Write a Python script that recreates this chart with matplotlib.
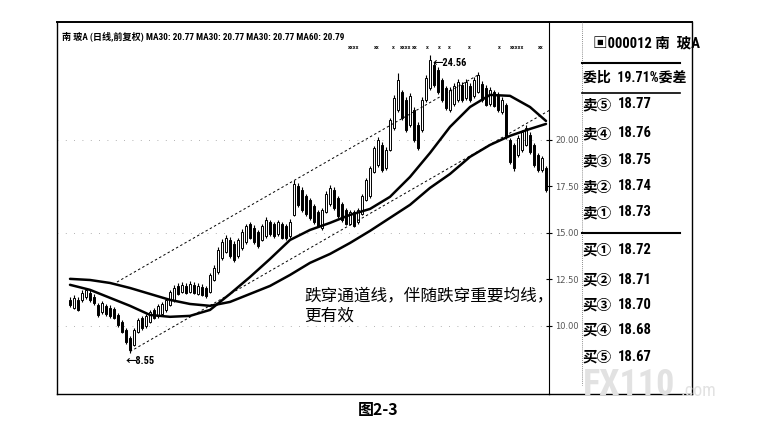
import matplotlib
matplotlib.use("Agg")
import matplotlib.pyplot as plt
from matplotlib import font_manager

# === daily candles (price units) ===
opens = [11.40, 10.97, 11.40, 11.40, 11.55, 11.78, 11.56, 11.13, 10.75, 11.08,
         10.97, 10.91, 10.59, 10.22, 9.79, 9.36, 8.98, 9.68, 10.43, 10.00,
         10.22, 10.86, 10.54, 10.65, 10.86, 11.13, 11.40, 12.15, 11.83, 12.15,
         11.83, 12.21, 11.72, 12.10, 12.04, 11.83, 12.47, 12.90, 13.66, 13.98,
         14.62, 14.41, 13.76, 14.20, 14.52, 15.48, 15.27, 15.05, 14.62, 14.84,
         15.59, 15.48, 14.95, 15.48, 15.38, 14.84, 15.97, 17.53, 17.31, 16.99,
         16.77, 16.45, 16.13, 15.27, 16.13, 16.56, 17.31, 16.88, 16.56, 16.24,
         15.48, 16.13, 15.59, 16.02, 16.77, 16.99, 18.28, 18.66, 19.73, 18.49,
         19.46, 20.65, 21.61, 22.58, 22.15, 20.81, 21.61, 20.81, 20.54, 22.15,
         22.80, 24.03, 23.76, 23.23, 22.80, 21.61, 21.94, 22.15, 22.96, 22.26,
         22.90, 22.37, 22.58, 23.01, 22.80, 21.94, 22.58, 22.42, 21.51, 21.88,
         20.00, 19.73, 19.19, 19.46, 19.73, 20.27, 19.73, 19.19, 18.39, 18.49]
closes = [11.13, 11.51, 10.86, 11.78, 11.94, 11.40, 11.24, 10.59, 11.24, 10.65,
          10.54, 10.43, 10.05, 9.68, 9.14, 8.71, 9.79, 10.32, 9.89, 10.54,
          10.75, 10.43, 11.08, 11.18, 11.40, 11.83, 12.04, 11.72, 12.21, 11.78,
          12.26, 11.78, 12.15, 11.67, 11.61, 12.74, 13.12, 14.09, 14.52, 14.73,
          13.76, 13.55, 14.62, 15.05, 15.38, 14.73, 14.52, 14.30, 15.38, 15.70,
          14.95, 14.84, 15.59, 14.73, 14.73, 15.59, 17.63, 16.51, 16.24, 16.02,
          15.81, 15.59, 15.38, 16.24, 17.10, 17.42, 16.35, 15.91, 15.70, 15.48,
          16.13, 15.38, 16.24, 16.99, 17.85, 18.49, 19.57, 20.00, 18.39, 19.46,
          21.08, 22.26, 23.23, 21.18, 20.54, 22.37, 20.00, 19.57, 22.15, 23.33,
          24.30, 22.96, 22.58, 22.15, 21.72, 22.69, 22.90, 23.12, 22.15, 23.12,
          22.15, 23.23, 23.49, 22.15, 21.88, 22.69, 21.83, 21.61, 22.15, 20.16,
          18.82, 18.49, 20.11, 20.43, 20.65, 19.35, 18.66, 18.39, 19.03, 17.31]
highs = [11.55, 11.65, 11.55, 11.95, 12.05, 11.98, 11.70, 11.25, 11.35, 11.20,
         11.10, 11.00, 10.70, 10.30, 9.90, 9.45, 9.90, 10.40, 10.55, 10.65,
         10.85, 10.95, 11.20, 11.30, 11.50, 11.95, 12.20, 12.30, 12.35, 12.30,
         12.40, 12.35, 12.30, 12.25, 12.15, 12.85, 13.25, 14.25, 14.70, 14.90,
         14.80, 14.55, 14.75, 15.20, 15.50, 15.60, 15.40, 15.15, 15.50, 15.85,
         15.70, 15.60, 15.70, 15.60, 15.50, 15.75, 17.85, 17.70, 17.45, 17.10,
         16.90, 16.55, 16.25, 16.35, 17.25, 17.55, 17.45, 17.00, 16.65, 16.35,
         16.25, 16.25, 16.35, 17.10, 17.95, 18.60, 19.70, 20.15, 19.90, 19.60,
         21.20, 22.40, 23.60, 22.70, 22.30, 22.50, 21.75, 20.95, 22.30, 23.50,
         24.56, 24.20, 23.90, 23.35, 22.90, 22.85, 23.05, 23.25, 23.10, 23.25,
         23.05, 23.40, 23.66, 23.15, 22.95, 22.85, 22.70, 22.55, 22.30, 22.00,
         20.10, 19.85, 20.25, 20.55, 20.80, 20.40, 19.85, 19.30, 19.15, 18.60]
lows = [11.00, 10.90, 10.80, 11.30, 11.45, 11.30, 11.15, 10.50, 10.65, 10.55,
        10.45, 10.35, 9.95, 9.60, 9.05, 8.55, 8.90, 9.60, 9.80, 9.90,
        10.15, 10.35, 10.45, 10.55, 10.75, 11.05, 11.30, 11.65, 11.75, 11.70,
        11.75, 11.70, 11.65, 11.60, 11.50, 11.75, 12.40, 12.80, 13.55, 13.90,
        13.65, 13.45, 13.65, 14.10, 14.40, 14.65, 14.40, 14.20, 14.55, 14.75,
        14.85, 14.75, 14.85, 14.65, 14.60, 14.75, 15.90, 16.40, 16.15, 15.90,
        15.70, 15.50, 15.30, 15.15, 16.05, 16.45, 16.25, 15.80, 15.60, 15.40,
        15.40, 15.30, 15.50, 15.95, 16.70, 16.90, 18.20, 18.55, 18.30, 18.40,
        19.40, 20.55, 21.50, 21.05, 20.45, 20.70, 19.90, 19.45, 20.45, 22.05,
        22.70, 22.85, 22.45, 22.05, 21.60, 21.50, 21.85, 22.05, 22.05, 22.15,
        22.05, 22.25, 22.50, 22.05, 21.80, 21.85, 21.75, 21.50, 21.40, 20.05,
        18.70, 18.35, 19.10, 19.35, 19.65, 19.25, 18.55, 18.30, 18.30, 17.20]

# moving averages, read every 5 sessions
ma_idx = [0, 5, 10, 15, 20, 25, 30, 35, 40, 45, 50, 55, 60, 65, 70, 75,
          80, 85, 90, 95, 100, 105, 110, 115, 119]
ma_fast = [12.21, 11.94, 11.51, 11.08, 10.59, 10.49, 10.54, 10.86, 11.72, 12.63,
           13.60, 14.62, 15.16, 15.54, 15.97, 16.29, 16.94, 18.01, 19.30, 20.70,
           21.77, 22.42, 22.37, 21.77, 21.02]
ma_slow = [12.53, 12.47, 12.31, 12.04, 11.72, 11.40, 11.18, 11.08, 11.29, 11.72,
           12.15, 12.74, 13.39, 13.87, 14.46, 15.11, 15.81, 16.51, 17.42, 18.17,
           19.09, 19.73, 20.22, 20.59, 20.86]

# channel lines (start / end)
chan_up_idx = [11.75, 102]
chan_up = [12.36, 23.49]
chan_lo_idx = [15, 120]
chan_lo = [8.62, 21.61]

price_ticks = [10.0, 12.5, 15.0, 17.5, 20.0]
grid_levels = [10.0, 15.0, 20.0]
low_idx, low_val = 15, 8.55
high_idx, high_val = 90, 24.56

# little info-mine marks along the top of the chart (session index, text)
mark_idx = [69.5, 76, 80.5, 82.5, 85.5, 89, 92, 94.5, 99.5, 107, 110, 117]
mark_txt = ["xxxx", "xx", "x", "xxxx", "xx", "x", "x", "x", "x", "x", "xxxxx", "xx"]

title_name = "南 玻A (日线,前复权)"
title_ma = "MA30: 20.77 MA30: 20.77 MA30: 20.77 MA60: 20.79"
sell_labels = ["卖⑤", "卖④", "卖③", "卖②", "卖①"]
sell_prices = [18.77, 18.76, 18.75, 18.74, 18.73]
buy_labels = ["买①", "买②", "买③", "买④", "买⑤"]
buy_prices = [18.72, 18.71, 18.70, 18.68, 18.67]
note_lines = ["跌穿通道线，伴随跌穿重要均线，", "更有效"]

# === fonts: look for a narrow latin face, the scan uses condensed type ===
ttf = font_manager.fontManager.ttflist
have = {f.name for f in ttf}
NARROW, STRETCH = "Liberation Sans", "normal"
for name in ["Roboto Condensed", "Liberation Sans Narrow", "Open Sans Condensed"]:
    if name in have:
        NARROW = name
        break
else:
    for name in ["Noto Sans", "Roboto", "Open Sans", "DejaVu Sans"]:
        cond = [f for f in ttf if f.name == name
                and f.stretch in ("condensed", "semi-condensed", "extra-condensed")]
        if cond:
            NARROW, STRETCH = name, cond[0].stretch
            break
CJK = "Noto Sans CJK SC"
MIX = [NARROW, CJK, "DejaVu Sans"]

W, H = 767, 442
fig = plt.figure(figsize=(W / 100, H / 100), dpi=100)
fig.patch.set_facecolor("white")


def box(x0, y0, x1, y1):
    return [x0 / W, 1 - y1 / H, (x1 - x0) / W, (y1 - y0) / H]


# === price chart ===
ax = fig.add_axes(box(57, 22, 549, 394))
ax.set_xlim(-3.25, 119.75)
ax.set_ylim(6.34, 26.34)

for lvl in grid_levels:
    ax.axhline(lvl, color="#999999", lw=0.6, ls=(0, (1, 9)), zorder=1)

xs = list(range(len(closes)))
bottoms = [min(o, c) for o, c in zip(opens, closes)]
heights = [max(abs(c - o), 0.04) for o, c in zip(opens, closes)]
faces = ["white" if c >= o else "black" for o, c in zip(opens, closes)]
ax.vlines(xs, lows, highs, color="black", lw=0.8, zorder=2)
ax.bar(xs, heights, bottom=bottoms, width=0.6, color=faces,
       edgecolor="black", linewidth=0.7, zorder=3)

ax.plot(ma_idx, ma_slow, color="black", lw=1.8, zorder=4, solid_capstyle="round")
ax.plot(ma_idx, ma_fast, color="black", lw=1.8, zorder=4, solid_capstyle="round")
ax.plot(chan_up_idx, chan_up, color="black", lw=0.7, ls=(0, (2.5, 2.5)), zorder=4)
ax.plot(chan_lo_idx, chan_lo, color="black", lw=0.7, ls=(0, (2.5, 2.5)), zorder=4)

ax.text(low_idx - 1.0, low_val - 0.45, f"←{low_val:.2f}", family=MIX,
        fontstretch=STRETCH, fontsize=7.5, fontweight="bold",
        va="center", ha="left", zorder=5)
ax.text(high_idx + 0.6, high_val - 0.42, f"←{high_val:.2f}", family=MIX,
        fontstretch=STRETCH, fontsize=7.5, fontweight="bold",
        va="center", ha="left", zorder=5)
for mi, mt in zip(mark_idx, mark_txt):
    ax.text(mi, 24.95, mt, family=MIX, fontsize=4.5, fontweight="bold",
            va="center", ha="left", color="#222222", zorder=5)

ax.yaxis.tick_right()
ax.set_yticks(price_ticks)
ax.set_yticklabels([f"{t:.2f}" for t in price_ticks])
ax.tick_params(axis="y", direction="inout", length=5, width=0.8, pad=2,
               labelsize=6, colors="black")
for lab in ax.get_yticklabels():
    lab.set_color("#555555")
ax.set_xticks([])
for name, sp in ax.spines.items():
    sp.set_color("black")
    sp.set_linewidth(1.0)
ax.spines["top"].set_linewidth(1.4)
ax.spines["right"].set_linewidth(0.8)

# === overlay: frame, quote table, texts ===
ov = fig.add_axes([0, 0, 1, 1], zorder=5)
ov.set_xlim(0, W)
ov.set_ylim(H, 0)
ov.axis("off")
ov.patch.set_visible(False)

ov.plot([549, 692], [22, 22], color="black", lw=1.4)
ov.plot([549, 692], [394, 394], color="black", lw=1.0)
ov.plot([692, 692], [22, 394], color="black", lw=1.0)
ov.plot([582, 582], [22, 385], color="#666666", lw=0.6, ls=(0, (1, 1.5)))
ov.plot([582, 680], [63, 63], color="black", lw=1.5)
ov.plot([582, 680], [93, 93], color="black", lw=1.2)
ov.plot([582, 680], [233, 233], color="black", lw=1.5)

t_name = ov.text(62, 37, title_name, family=MIX, fontstretch=STRETCH, fontsize=7,
                 fontweight="bold", va="center", ha="left")
t_ma = ov.text(146, 37, title_ma, family=MIX, fontstretch=STRETCH, fontsize=7,
               fontweight="bold", va="center", ha="left")

# squeeze the header texts to the widths they take in the scan
fig.canvas.draw()
rend = fig.canvas.get_renderer()
for t, width_px in [(t_name, 82), (t_ma, 200)]:
    bb = t.get_window_extent(renderer=rend)
    t.set_fontsize(t.get_fontsize() * width_px / bb.width)

ov.text(593, 43, "▣000012 南  玻A", family=MIX, fontstretch=STRETCH, fontsize=10.5,
        fontweight="bold", va="center", ha="left")
ov.text(583, 78, "委比  19.71%委差", family=MIX, fontstretch=STRETCH, fontsize=10,
        fontweight="bold", va="center", ha="left")

sell_y = [104, 133, 160, 186, 212]
buy_y = [250, 280, 305, 330, 357]
for lab, val, y in zip(sell_labels + buy_labels, sell_prices + buy_prices, sell_y + buy_y):
    ov.text(582, y, lab, family=[CJK, "DejaVu Sans"], fontsize=10.5, fontweight="bold",
            va="center", ha="left")
    ov.text(618, y, f"{val:.2f}", family=MIX, fontstretch=STRETCH, fontsize=10.5,
            fontweight="bold", va="center", ha="left")

ov.text(304, 296, note_lines[0], family=[CJK, "DejaVu Sans"], fontsize=12,
        va="center", ha="left")
ov.text(304, 316, note_lines[1], family=[CJK, "DejaVu Sans"], fontsize=12,
        va="center", ha="left")

# watermark
ov.text(583, 385, "FX110", family=MIX, fontstretch=STRETCH, fontsize=26,
        fontweight="bold", color="#e2e2e2", va="center", ha="left", zorder=6)
ov.text(681, 391, ".com", family=MIX, fontsize=13, color="#e2e2e2",
        va="center", ha="left", zorder=6)

ov.text(378, 410, "图2-3", family=[CJK, "DejaVu Sans"], fontsize=11.5,
        fontweight="bold", va="center", ha="center")

fig.savefig("out.png", dpi=100, facecolor="white")
